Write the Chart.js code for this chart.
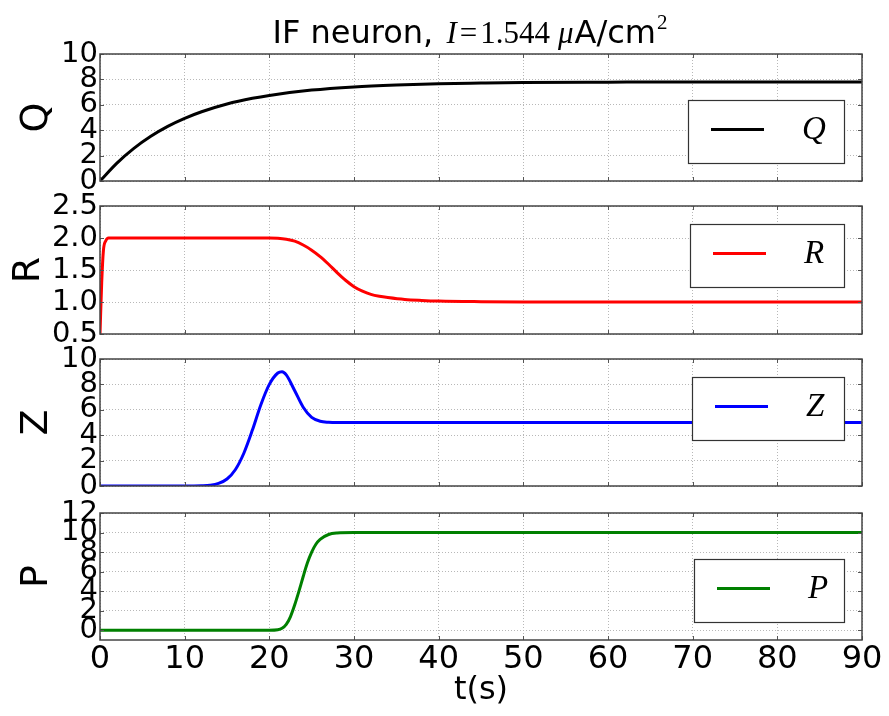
<!DOCTYPE html>
<html>
<head>
<meta charset="utf-8">
<title>IF neuron</title>
<script src="https://cdn.jsdelivr.net/npm/chart.js@4.4.1/dist/chart.umd.min.js"></script>
<style>
  html, body { margin: 0; padding: 0; background: #fff; }
  #wrap { position: relative; width: 889px; height: 716px; overflow: hidden; }
  #wrap canvas { position: absolute; left: 0; }
</style>
</head>
<body>
<div id="wrap">
  <canvas id="chartQ" width="889" height="201" style="top:0px"></canvas>
  <canvas id="chartR" width="889" height="168" style="top:186px"></canvas>
  <canvas id="chartZ" width="889" height="167" style="top:339px"></canvas>
  <canvas id="chartP" width="889" height="223" style="top:493px"></canvas>
</div>
<script>
// shared time axis
const timeTicks = [0, 10, 20, 30, 40, 50, 60, 70, 80, 90];
const timeLabels = ["0", "10", "20", "30", "40", "50", "60", "70", "80", "90"];

// Q(t)
const qTime = [0, 2, 4, 6, 8, 10, 12, 15, 18, 20, 25, 30, 35, 40, 45, 50, 60, 70, 80, 90];
const qValues = [0, 1.41, 2.57, 3.52, 4.30, 4.93, 5.45, 6.06, 6.51, 6.74, 7.16, 7.41, 7.56, 7.66, 7.71, 7.75, 7.78, 7.8, 7.8, 7.8];
const qTicks = [0, 2, 4, 6, 8, 10];
const qTickLabels = ["0", "2", "4", "6", "8", "10"];

// R(t)
const rTime = [0, 0.2, 0.4, 0.7, 1, 5, 10, 15, 20, 21, 22, 23, 24, 25, 26, 27, 28, 29, 30, 31, 32, 33, 34, 36, 38, 40, 45, 50, 60, 70, 80, 90];
const rValues = [0.5, 1.3, 1.8, 1.96, 2.0, 2.0, 2.0, 2.0, 2.0, 1.995, 1.98, 1.95, 1.89, 1.81, 1.71, 1.59, 1.46, 1.34, 1.24, 1.17, 1.12, 1.09, 1.07, 1.04, 1.025, 1.015, 1.005, 1.0, 1.0, 1.0, 1.0, 1.0];
const rTicks = [0.5, 1.0, 1.5, 2.0, 2.5];
const rTickLabels = ["0.5", "1.0", "1.5", "2.0", "2.5"];

// Z(t)
const zTime = [0, 5, 10, 12, 13, 14, 15, 16, 17, 18, 19, 20, 21, 21.5, 22, 23, 24, 25, 26, 27, 28, 30, 40, 50, 60, 70, 80, 90];
const zValues = [0, 0, 0, 0.02, 0.06, 0.2, 0.55, 1.3, 2.6, 4.4, 6.4, 8.0, 8.9, 9.0, 8.75, 7.5, 6.2, 5.4, 5.1, 5.02, 5.0, 5.0, 5.0, 5.0, 5.0, 5.0, 5.0, 5.0];
const zTicks = [0, 2, 4, 6, 8, 10];
const zTickLabels = ["0", "2", "4", "6", "8", "10"];

// P(t)
const pTime = [0, 10, 20, 21, 21.5, 22, 22.5, 23, 23.5, 24, 24.5, 25, 25.5, 26, 27, 28, 30, 40, 50, 60, 70, 80, 90];
const pValues = [0, 0, 0, 0.05, 0.2, 0.6, 1.4, 2.6, 4.0, 5.5, 6.9, 8.0, 8.8, 9.3, 9.8, 9.95, 10, 10, 10, 10, 10, 10, 10];
const pTicks = [0, 2, 4, 6, 8, 10, 12];
const pTickLabels = ["0", "2", "4", "6", "8", "10", "12"];

const SANS = "'DejaVu Sans', sans-serif";
const SERIF = "'Liberation Serif', 'DejaVu Serif', serif";

function toPoints(xs, ys) {
    return xs.map((x, i) => ({ x: x, y: ys[i] }));
}

// axes box and the small inward tick marks
const panelFrame = {
    id: "panelFrame",
    afterDatasetsDraw(chart) {
        const { ctx, chartArea: a, scales } = chart;
        ctx.save();
        ctx.strokeStyle = "#555";
        ctx.lineWidth = 1;
        ctx.beginPath();
        scales.x.ticks.forEach((t) => {
            const px = Math.round(scales.x.getPixelForValue(t.value)) + 0.5;
            ctx.moveTo(px, a.bottom); ctx.lineTo(px, a.bottom - 4);
            ctx.moveTo(px, a.top); ctx.lineTo(px, a.top + 4);
        });
        scales.y.ticks.forEach((t) => {
            const py = Math.round(scales.y.getPixelForValue(t.value)) + 0.5;
            ctx.moveTo(a.left, py); ctx.lineTo(a.left + 4, py);
            ctx.moveTo(a.right, py); ctx.lineTo(a.right - 4, py);
        });
        ctx.stroke();
        ctx.strokeStyle = "#444";
        ctx.lineWidth = 1.5;
        ctx.strokeRect(a.left, a.top, a.right - a.left, a.bottom - a.top);
        ctx.restore();
    }
};

// boxed legend sitting inside each panel
const panelLegend = {
    id: "panelLegend",
    afterDraw(chart, args, opts) {
        if (!opts.label) return;
        const { ctx, chartArea } = chart;
        const ds = chart.data.datasets[0];
        const right = chartArea.right - opts.inset;
        const left = right - opts.width;
        const top = chartArea.top + opts.top;
        const midY = top + opts.height / 2 - 2;
        ctx.save();
        ctx.fillStyle = "#fff";
        ctx.fillRect(left, top, opts.width, opts.height);
        ctx.strokeStyle = "#333";
        ctx.lineWidth = 1.2;
        ctx.strokeRect(left + 0.5, top + 0.5, opts.width, opts.height);
        ctx.strokeStyle = ds.borderColor;
        ctx.lineWidth = ds.borderWidth;
        ctx.beginPath();
        ctx.moveTo(left + 23, midY);
        ctx.lineTo(left + 76, midY);
        ctx.stroke();
        ctx.fillStyle = "#000";
        ctx.font = "italic 33px " + SERIF;
        ctx.textBaseline = "middle";
        ctx.fillText(opts.label, left + 114, midY + 1);
        ctx.restore();
    }
};

// figure title with the inline math part
const figTitle = {
    id: "figTitle",
    afterDraw(chart) {
        const ctx = chart.ctx;
        const parts = [
            { text: "IF neuron, ", font: "32px " + SANS, gap: 3 },
            { text: "I", font: "italic 31px " + SERIF, gap: 3 },
            { text: "=", font: "31px " + SERIF, gap: 3 },
            { text: "1.544", font: "31px " + SERIF, gap: 8 },
            { text: "\u03bc", font: "italic 31px " + SERIF, gap: 1 },
            { text: "A/cm", font: "32px " + SANS, gap: 1 },
            { text: "2", font: "21px " + SERIF, gap: 0, rise: 14 }
        ];
        ctx.save();
        let total = 0;
        parts.forEach((p) => {
            ctx.font = p.font;
            p.w = ctx.measureText(p.text).width;
            total += p.w + p.gap;
        });
        let x = 470 - total / 2;
        const baseline = 43;
        ctx.fillStyle = "#000";
        ctx.textBaseline = "alphabetic";
        parts.forEach((p) => {
            ctx.font = p.font;
            ctx.fillText(p.text, x, baseline - (p.rise || 0));
            x += p.w + p.gap;
        });
        ctx.restore();
    }
};

Chart.register(panelFrame, panelLegend);

function gridOpts() {
    return { color: "#b8b8b8", lineWidth: 1, drawTicks: false };
}

function xAxis(showLabels) {
    return {
        type: "linear",
        min: 0,
        max: 90,
        afterBuildTicks: (s) => { s.ticks = timeTicks.map((v) => ({ value: v })); },
        afterFit: (s) => { s.height = showLabels ? 76 : 0; },
        ticks: {
            display: showLabels,
            autoSkip: false,
            maxRotation: 0,
            padding: 0,
            color: "#000",
            font: { family: SANS, size: 32 },
            callback: (v, i) => timeLabels[i]
        },
        grid: gridOpts(),
        border: { display: false, dash: [1, 2] },
        title: {
            display: showLabels,
            text: "t(s)",
            color: "#000",
            font: { family: SANS, size: 32 },
            padding: { top: 0, bottom: 6 }
        }
    };
}

function yAxis(name, ticks, labels, min, max, titlePad) {
    return {
        min: min,
        max: max,
        afterBuildTicks: (s) => { s.ticks = ticks.map((v) => ({ value: v })); },
        afterFit: (s) => { s.width = 100; },
        ticks: {
            autoSkip: false,
            padding: 2,
            color: "#000",
            font: { family: SANS, size: 29 },
            callback: (v, i) => labels[i]
        },
        grid: gridOpts(),
        border: { display: false, dash: [1, 2] },
        title: {
            display: true,
            text: name,
            color: "#000",
            font: { family: SANS, size: 38 },
            padding: { top: titlePad, bottom: 0 }
        }
    };
}

function makePanel(id, cfg) {
    return new Chart(document.getElementById(id), {
        type: "line",
        data: {
            datasets: [{
                label: cfg.name,
                data: toPoints(cfg.time, cfg.values),
                borderColor: cfg.color,
                backgroundColor: cfg.color,
                borderWidth: 3,
                pointRadius: 0,
                cubicInterpolationMode: "monotone",
                fill: false
            }]
        },
        options: {
            responsive: false,
            animation: false,
            devicePixelRatio: 1,
            layout: { padding: { top: cfg.padTop, right: 27, bottom: cfg.padBottom, left: 0 } },
            scales: {
                x: xAxis(cfg.showX),
                y: yAxis(cfg.name, cfg.ticks, cfg.tickLabels, cfg.min, cfg.max, cfg.titlePad)
            },
            plugins: {
                legend: { display: false },
                tooltip: { enabled: false },
                panelLegend: cfg.legend
            }
        },
        plugins: cfg.extra || []
    });
}

makePanel("chartQ", {
    name: "Q", time: qTime, values: qValues, color: "#000000",
    ticks: qTicks, tickLabels: qTickLabels, min: 0, max: 10, titlePad: 14,
    padTop: 54, padBottom: 20, showX: false,
    legend: { label: "Q", inset: 18, width: 156, top: 46, height: 63 },
    extra: [figTitle]
});

makePanel("chartR", {
    name: "R", time: rTime, values: rValues, color: "#ff0000",
    ticks: rTicks, tickLabels: rTickLabels, min: 0.5, max: 2.5, titlePad: 6,
    padTop: 20, padBottom: 20, showX: false,
    legend: { label: "R", inset: 18, width: 154, top: 18, height: 63 }
});

makePanel("chartZ", {
    name: "Z", time: zTime, values: zValues, color: "#0000ff",
    ticks: zTicks, tickLabels: zTickLabels, min: 0, max: 10, titlePad: 14,
    padTop: 20, padBottom: 20, showX: false,
    legend: { label: "Z", inset: 18, width: 152, top: 18, height: 63 }
});

makePanel("chartP", {
    name: "P", time: pTime, values: pValues, color: "#008000",
    ticks: pTicks, tickLabels: pTickLabels, min: -1, max: 12, titlePad: 14,
    padTop: 20, padBottom: 0, showX: true,
    legend: { label: "P", inset: 18, width: 150, top: 46, height: 63 }
});
</script>
</body>
</html>
